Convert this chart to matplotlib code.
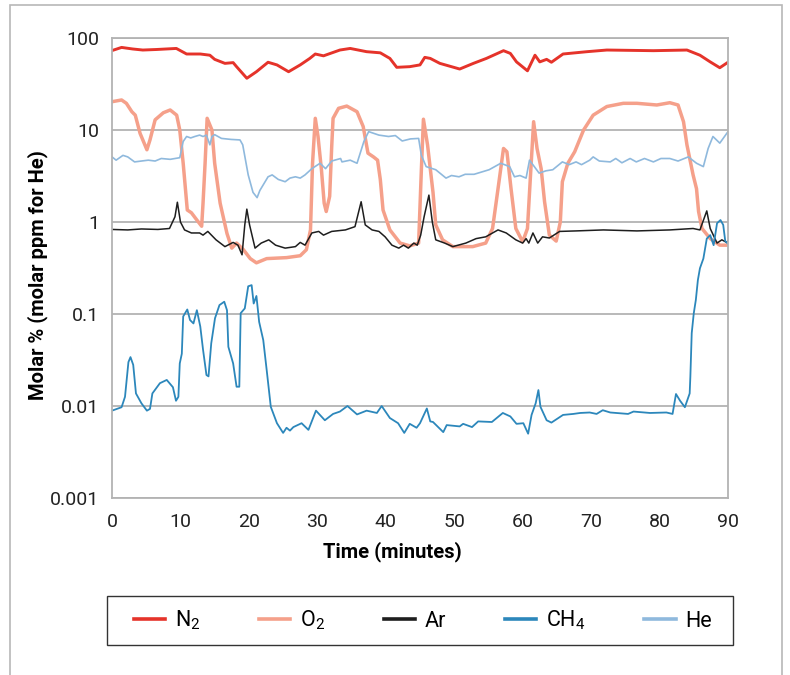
"""Gas composition over a 90-minute run, log scale, one line per species."""
import matplotlib
matplotlib.use("Agg")

import matplotlib.pyplot as plt
from matplotlib.patches import Rectangle

plt.rcParams["font.family"] = ["Liberation Sans Narrow", "Roboto", "DejaVu Sans"]
plt.rcParams["mathtext.default"] = "regular"

# --- data (time in minutes, molar %) ----------------------------------------
n2_t = [0, 1.4, 3, 4.5, 6.5, 9.4, 10.9, 12.9, 14.3, 15.0, 16.5, 17.7, 18.2,
        19.7, 21.1, 22.8, 24.1, 25.8, 27.5, 28.9, 29.7, 30.9, 33.3, 34.8,
        37.2, 39.2, 40.6, 41.6, 43.5, 45.0, 45.7, 46.5, 47.9, 50.8, 52.8,
        54.7, 57.2, 58.2, 59.1, 60.7, 61.8, 62.5, 63.5, 64.2, 65.9, 69.4,
        72.3, 79.1, 84.0, 85.9, 87.4, 88.8, 90]
n2_v = [73, 79, 76, 74, 75, 77, 67, 67, 65, 58.6, 53, 54, 48.8,
        36.5, 43, 54.5, 51, 43, 51, 60, 67, 64, 74, 77,
        71, 69, 60, 48, 48.8, 51, 61.6, 60, 53, 46, 53,
        60, 72.8, 68, 55, 44, 65, 55, 58.6, 54.5, 67, 71,
        74, 72.8, 74, 65, 55, 47.5, 54.5]

o2_t = [0, 1.4, 2.1, 2.9, 3.4, 4.1, 5.1, 5.55, 6.3, 7.5, 8.5, 9.45, 9.9,
        10.4, 11.0, 11.6, 12.4, 13.1, 13.3, 13.6, 13.9, 14.6, 15.0, 15.8,
        16.8, 17.5, 18.2, 19.2, 20.2, 21.1, 22.6, 25.5, 27.5, 28.4, 29.0,
        29.3, 29.7, 30.1, 30.6, 31.0, 31.3, 31.8, 32.1, 32.3, 33.1, 34.3,
        35.8, 36.7, 37.4, 38.2, 38.8, 39.2, 39.6, 40.6, 42.1, 43.5, 44.8,
        45.2, 45.5, 46.1, 46.9, 47.3, 48.3, 49.8, 52.7, 54.6, 55.6, 56.4,
        57.2, 57.7, 58.3, 59.0, 60.0, 60.7, 61.2, 61.6, 62.1, 62.7, 63.2,
        63.9, 64.9, 65.5, 65.8, 66.6, 67.6, 68.9, 70.3, 72.3, 74.7, 76.7,
        79.6, 81.5, 82.7, 83.5, 84.0, 84.9, 85.4, 85.7, 86.2, 87.4, 88.8, 90]
o2_v = [20.3, 21.2, 19.5, 15.8, 14.5, 9.2, 6.1, 7.8, 12.9, 15.4, 16.5, 14.5, 10,
        4.35, 1.35, 1.26, 1.05, 0.9, 1.6, 4.35, 13.4, 10, 4.35, 1.6,
        0.75, 0.52, 0.59, 0.5, 0.4, 0.36, 0.4, 0.41, 0.43, 0.5, 0.82,
        4.35, 13.4, 8.5, 3.7, 1.6, 1.3, 1.9, 6.6, 13.4, 17.2, 18.2,
        15.8, 10.9, 5.6, 5.1, 4.7, 2.9, 1.35, 0.82, 0.59, 0.55, 0.59,
        3.7, 13.1, 6.9, 2.1, 0.93, 0.64, 0.54, 0.54, 0.59, 0.85, 2.3,
        6.3, 5.8, 2.3, 0.85, 0.61, 0.85, 3.8, 12.3, 6.3, 3.8, 1.66,
        0.72, 0.62, 1.0, 2.74, 4.35, 5.8, 10, 14.5, 18, 19.5, 19.5,
        18.7, 19.8, 18.7, 12.3, 6.9, 3.25, 2.3, 1.3, 0.85, 0.66, 0.56, 0.56]

ar_t = [0, 2.3, 4.3, 6.7, 8.4, 9.2, 9.55, 10.0, 10.6, 11.6, 12.8, 13.3, 14.0,
        15.2, 16.5, 17.7, 18.4, 19.0, 19.4, 19.7, 20.1, 20.9, 21.8, 22.9,
        23.9, 25.3, 26.8, 27.5, 28.2, 29.2, 30.2, 30.9, 32.1, 34.1, 35.5,
        36.4, 37.0, 38.0, 39.0, 39.9, 40.9, 41.9, 42.6, 43.3, 44.1, 44.6,
        45.1, 45.6, 46.3, 46.8, 47.3, 48.6, 49.8, 51.7, 53.2, 54.6, 56.4,
        57.6, 59.0, 60.0, 60.5, 60.9, 61.5, 62.2, 62.9, 63.9, 65.4, 67.8,
        71.8, 76.7, 81.5, 84.9, 85.9, 86.9, 87.4, 88.4, 89.1, 89.8, 90]
ar_v = [0.83, 0.82, 0.84, 0.83, 0.85, 1.14, 1.64, 1.0, 0.82, 0.76, 0.76, 0.72, 0.79,
        0.64, 0.54, 0.6, 0.56, 0.44, 0.93, 1.38, 0.93, 0.52, 0.59, 0.64,
        0.56, 0.52, 0.54, 0.6, 0.56, 0.76, 0.79, 0.72, 0.79, 0.82, 0.89,
        1.66, 0.93, 0.82, 0.79, 0.69, 0.56, 0.52, 0.56, 0.52, 0.59, 0.56,
        0.72, 1.14, 1.96, 1.0, 0.64, 0.59, 0.54, 0.59, 0.66, 0.69, 0.82,
        0.76, 0.64, 0.59, 0.66, 0.59, 0.76, 0.59, 0.69, 0.67, 0.79, 0.8,
        0.82, 0.8, 0.82, 0.85, 0.82, 1.32, 0.85, 0.59, 0.64, 0.6, 0.62]

ch4_t = [0, 1.4, 1.9, 2.4, 2.7, 3.1, 3.5, 4.3, 5.1, 5.55, 5.9, 7.0, 8.0, 8.9,
         9.35, 9.7, 9.9, 10.2, 10.4, 11.0, 11.4, 11.9, 12.4, 12.9, 13.3,
         13.8, 14.1, 14.5, 15.05, 15.7, 16.4, 16.8, 17.0, 17.7, 18.2, 18.6,
         18.8, 19.4, 19.9, 20.4, 20.7, 21.1, 21.5, 22.1, 22.6, 23.2, 24.1,
         25.0, 25.5, 26.0, 26.5, 27.7, 28.7, 29.8, 31.1, 32.3, 33.3, 34.4,
         35.8, 37.2, 38.7, 39.4, 40.6, 41.8, 42.7, 43.5, 44.5, 45.0, 46.0,
         46.5, 46.9, 48.4, 48.9, 50.8, 51.3, 52.6, 53.5, 55.5, 57.1, 58.2,
         59.1, 60.1, 60.8, 61.3, 61.9, 62.3, 62.6, 63.5, 64.2, 65.9, 67.4,
         68.4, 69.8, 70.8, 71.7, 72.8, 75.4, 76.2, 78.6, 81.0, 81.9, 82.4,
         83.0, 83.7, 84.4, 84.5, 84.7, 85.0, 85.3, 85.6, 85.9, 86.4, 86.9,
         87.4, 87.9, 88.4, 88.9, 89.3, 89.6, 90]
ch4_v = [0.0089, 0.0097, 0.0126, 0.030, 0.034, 0.028, 0.0137, 0.0107, 0.0089,
         0.0093, 0.0137, 0.0177, 0.0192, 0.016,
         0.0114, 0.0126, 0.029, 0.037, 0.094, 0.112, 0.086, 0.079, 0.11,
         0.073, 0.041,
         0.0217, 0.021, 0.048, 0.09, 0.125, 0.136, 0.11, 0.044, 0.029,
         0.0162, 0.0162,
         0.102, 0.115, 0.20, 0.206, 0.13, 0.157, 0.082, 0.052, 0.0246,
         0.0098, 0.0065,
         0.0051, 0.0058, 0.0054, 0.0059, 0.0065, 0.0055, 0.0089, 0.007,
         0.0082, 0.0087, 0.010,
         0.0081, 0.0089, 0.0084, 0.010, 0.0074, 0.0065, 0.0051, 0.0064,
         0.0058, 0.0065, 0.0094,
         0.0068, 0.0067, 0.0052, 0.0062, 0.006, 0.0064, 0.0059, 0.0068,
         0.0067, 0.0084, 0.0077,
         0.0064, 0.0065, 0.005, 0.008, 0.0107, 0.0149, 0.0098, 0.007,
         0.0066, 0.008, 0.0082,
         0.0084, 0.0085, 0.0082, 0.009, 0.0085, 0.0082, 0.0087, 0.0084,
         0.0085, 0.0082, 0.0135,
         0.0114, 0.0097, 0.0137, 0.0208, 0.062, 0.102, 0.142, 0.234, 0.314,
         0.40, 0.66,
         0.72, 0.56, 0.97, 1.05, 0.93, 0.62, 0.58]

he_t = [0, 0.3, 0.6, 1.6, 2.3, 3.3, 4.3, 5.3, 6.3, 7.2, 8.5, 9.9, 10.4, 10.9,
        11.5, 12.1, 12.8, 13.3, 13.8, 14.3, 14.6, 15.0, 16.0, 17.4, 18.7,
        19.1, 19.9, 20.6, 21.2, 21.6, 22.8, 23.4, 24.3, 25.3, 26.0, 26.8,
        27.5, 28.2, 29.2, 30.4, 31.2, 32.1, 33.4, 33.6, 34.8, 35.8, 36.8,
        37.5, 39.0, 40.4, 41.4, 42.4, 43.6, 44.8, 45.2, 45.4, 45.9, 47.3,
        48.8, 49.6, 50.7, 51.6, 52.9, 55.1, 56.8, 58.1, 58.8, 59.6, 60.5,
        61.0, 61.7, 62.4, 63.4, 64.4, 65.8, 66.8, 67.8, 68.6, 69.8, 70.3,
        71.2, 72.8, 73.6, 74.5, 75.7, 76.6, 77.8, 79.1, 80.2, 81.5, 82.7,
        84.2, 85.4, 86.4, 87.1, 87.8, 88.8, 90]
he_v = [5.1, 4.9, 4.7, 5.3, 5.1, 4.5, 4.6, 4.7, 4.6, 4.9, 4.8, 5.0, 7.5, 8.5,
        8.2, 8.5, 8.8, 8.5, 8.8, 6.9, 8.5, 8.9, 8.1, 7.9, 7.8,
        6.9, 3.25, 2.1, 1.84, 2.2, 3.1, 3.25, 2.9, 2.74, 3.0, 3.1,
        3.0, 3.25, 3.8, 4.35, 3.8, 4.6, 4.9, 4.5, 4.7, 4.35, 7.5,
        9.6, 8.8, 8.5, 8.7, 7.6, 8.0, 8.1, 5.3, 4.9, 4.0, 3.7,
        3.0, 3.2, 3.1, 3.3, 3.3, 3.7, 4.35, 4.0, 3.1, 3.2, 3.0,
        4.7, 4.0, 3.4, 3.6, 3.7, 4.5, 4.2, 4.5, 4.2, 4.7, 5.1,
        4.6, 4.5, 4.9, 4.4, 4.9, 4.5, 4.9, 4.5, 4.9, 4.9, 4.6,
        5.1, 4.35, 4.0, 6.3, 8.5, 7.2, 9.6]

series = [
    ("N$_2$", n2_t, n2_v, "#e5332a", 2.1),
    ("O$_2$", o2_t, o2_v, "#f5a08a", 2.5),
    ("Ar", ar_t, ar_v, "#1e1e1e", 1.1),
    ("CH$_4$", ch4_t, ch4_v, "#2c87bb", 1.3),
    ("He", he_t, he_v, "#8fb9dd", 1.2),
]

GRID = "#b3b3b3"

fig = plt.figure(figsize=(7.9, 6.75), dpi=100)
ax = fig.add_axes([112 / 790, 1 - 498 / 675, 616 / 790, 460 / 675])

for label, t, v, color, lw in series:
    assert len(t) == len(v), label
    ax.plot(t, v, color=color, lw=lw, label=label, solid_joinstyle="round")

ax.set_yscale("log")
ax.set_ylim(0.001, 100)
ax.set_xlim(0, 90)
ax.set_xticks(range(0, 91, 10))
ax.set_yticks([0.001, 0.01, 0.1, 1, 10, 100])
ax.set_yticklabels(["0.001", "0.01", "0.1", "1", "10", "100"])
ax.yaxis.set_minor_locator(plt.NullLocator())
ax.tick_params(length=0, labelsize=14, colors="#222222")
ax.tick_params(axis="x", pad=11)
ax.tick_params(axis="y", pad=9)
ax.grid(axis="y", color=GRID, lw=1.3)
ax.set_axisbelow(True)
for spine in ax.spines.values():
    spine.set_color(GRID)
    spine.set_linewidth(1.3)

ax.set_xlabel("Time (minutes)", fontsize=14.5, fontweight="bold")
ax.xaxis.set_label_coords(0.4545, -0.095)
ax.set_ylabel("Molar % (molar ppm for He)", fontsize=14.5, fontweight="bold")
ax.yaxis.set_label_coords(-0.104, 0.485)

# legend entries spread over the inner strip; the box is drawn separately so
# its padding can differ left/right from top/bottom, as in the original
leg = fig.legend(loc="center left", ncol=5, mode="expand",
                 bbox_to_anchor=(134 / 790, 1 - 645 / 675, 578 / 790, 49 / 675),
                 fontsize=15.5, frameon=False, handlelength=1.45,
                 handletextpad=0.45, borderaxespad=0, borderpad=0)
for line in leg.get_lines():
    line.set_linewidth(2.6)
fig.patches.append(Rectangle((107 / 790, 1 - 645 / 675), 626 / 790, 49 / 675,
                             transform=fig.transFigure, fill=False,
                             edgecolor="#333333", lw=1.0))

# the light frame round the whole figure, open at the bottom
fig.patches.append(Rectangle((10 / 790, -0.05), 772 / 790, 1.05 - 5 / 675,
                             transform=fig.transFigure, fill=False,
                             edgecolor="#b8b8b8", lw=1.2))

fig.savefig("out.png", dpi=100, facecolor="white")
